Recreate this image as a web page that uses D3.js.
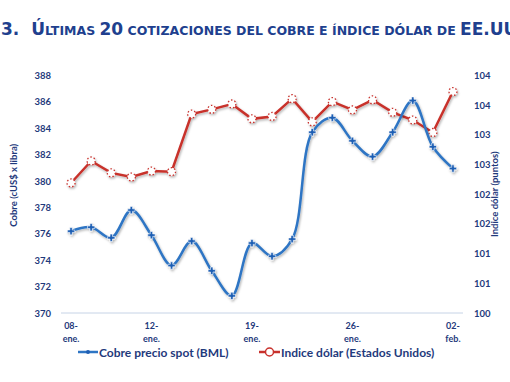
<!DOCTYPE html>
<html><head><meta charset="utf-8">
<script src="https://cdn.jsdelivr.net/npm/d3@7"></script>
<style>
html,body{margin:0;padding:0;background:#fff;overflow:hidden}
svg{display:block}
</style></head>
<body>
<svg id="c" width="510" height="382"></svg>
<script>
const dates = ["08-ene.","09-ene.","10-ene.","11-ene.","12-ene.","15-ene.","16-ene.","17-ene.","18-ene.","19-ene.",
  "22-ene.","23-ene.","24-ene.","25-ene.","26-ene.","29-ene.","30-ene.","31-ene.","01-feb.","02-feb."];
const cobre = [376.2,376.5,375.7,377.8,375.9,373.6,375.45,373.2,371.3,375.3,
  374.3,375.6,383.7,384.8,383.05,381.85,383.7,386.1,382.6,380.95];
const dolar = [102.19,102.56,102.36,102.29,102.39,102.38,103.35,103.43,103.52,103.27,
  103.31,103.61,103.22,103.56,103.42,103.59,103.38,103.25,103.04,103.73];
const labeledDates = ["08-ene.","12-ene.","19-ene.","26-ene.","02-feb."];
const leftTicks = [370,372,374,376,378,380,382,384,386,388];
const rightTicks = [100,100.5,101,101.5,102,102.5,103,103.5,104];
const seriesNames = ["Cobre precio spot (BML)","Indice dólar (Estados Unidos)"];
const titleParts = [["3.",1],["\u00A0\u00A0\u00DA",1],["LTIMAS ",0],["20",1],[" COTIZACIONES DEL COBRE E ÍNDICE DÓLAR DE ",0],["EE.UU.",1]];

const navy = "#1F3A7C", blue = "#2E75C4", red = "#C8312C";
const svg = d3.select("#c");
const m = {l:61, r:463, t:75.5, b:313};

const defs = svg.append("defs");
const f = defs.append("filter").attr("id","sh").attr("x","-10%").attr("y","-10%").attr("width","120%").attr("height","130%");
f.append("feDropShadow").attr("dx",1).attr("dy",1.5).attr("stdDeviation",1).attr("flood-color","#000").attr("flood-opacity",0.3);

// title
const t = svg.append("text").attr("x",1).attr("y",35)
  .attr("font-family","DejaVu Sans, Verdana, sans-serif").attr("font-weight","bold").attr("fill","#203F8E");
titleParts.forEach(([s,big]) => t.append("tspan").attr("font-size", big?17:12.5).text(s));

const x = d3.scalePoint().domain(dates).range([m.l, m.r]).padding(0.5);
const yL = d3.scaleLinear().domain([370,388]).range([m.b, m.t]);
const yR = d3.scaleLinear().domain([100,104]).range([m.b, m.t]);

// bottom axis line
svg.append("line").attr("x1",m.l).attr("x2",m.r).attr("y1",m.b).attr("y2",m.b).attr("stroke","#C6D3E6").attr("stroke-width",1);

const fontAx = "Lato, 'Open Sans', sans-serif";
// left axis
const la = svg.append("g").attr("transform",`translate(51,0)`)
  .call(d3.axisLeft(yL).tickValues(leftTicks).tickSize(0).tickPadding(0).tickFormat(d3.format("d")));
la.select(".domain").remove();
la.selectAll("text").attr("font-family",fontAx).attr("font-size",9.5).attr("font-weight","bold").attr("fill",navy);

// right axis
const ra = svg.append("g").attr("transform",`translate(474,0)`)
  .call(d3.axisRight(yR).tickValues(rightTicks).tickSize(0).tickPadding(0).tickFormat(d=>Math.floor(d+0.5)));
ra.select(".domain").remove();
ra.selectAll("text").attr("font-family",fontAx).attr("font-size",9.5).attr("font-weight","bold").attr("fill",navy);

// x labels
const xl = svg.append("g").attr("font-family",fontAx).attr("font-size",9).attr("font-weight","bold").attr("fill",navy).attr("text-anchor","middle");
labeledDates.forEach(d => {
  const [a,b] = d.split("-");
  const tx = xl.append("text").attr("x",x(d)).attr("y",329);
  tx.append("tspan").attr("x",x(d)).text(a+"-");
  tx.append("tspan").attr("x",x(d)).attr("dy",12.5).text(b);
});

// axis titles
svg.append("text").attr("transform",`translate(17,${(m.t+m.b)/2-9}) rotate(-90)`).attr("text-anchor","middle")
  .attr("font-family",fontAx).attr("font-size",9.5).attr("font-weight","bold").attr("fill",navy).text("Cobre (cUS$ x libra)");
svg.append("text").attr("transform",`translate(498,${(m.t+m.b)/2}) rotate(-90)`).attr("text-anchor","middle")
  .attr("font-family",fontAx).attr("font-size",9.5).attr("font-weight","bold").attr("fill",navy).text("Indice dólar (puntos)");

// red series
const lineR = d3.line().x((d,i)=>x(dates[i])).y(d=>yR(d));
const gR = svg.append("g").attr("filter","url(#sh)");
gR.append("path").datum(dolar).attr("d",lineR).attr("fill","none").attr("stroke",red).attr("stroke-width",2.5);
gR.selectAll("circle").data(dolar).join("circle").attr("cx",(d,i)=>x(dates[i])).attr("cy",d=>yR(d)).attr("r",4)
  .attr("fill","#fff").attr("stroke",red).attr("stroke-width",1.3).attr("stroke-dasharray","1.5,2");

// blue series
const lineB = d3.line().x((d,i)=>x(dates[i])).y(d=>yL(d)).curve(d3.curveCatmullRom.alpha(0.5));
const gB = svg.append("g").attr("filter","url(#sh)");
gB.append("path").datum(cobre).attr("d",lineB).attr("fill","none").attr("stroke",blue).attr("stroke-width",2.5);
gB.selectAll("path.m").data(cobre).join("path").attr("class","m")
  .attr("transform",(d,i)=>`translate(${x(dates[i])},${yL(d)})`)
  .attr("d",d3.symbol(d3.symbolCross,30)).attr("fill","#1F5FB4").attr("stroke","#fff").attr("stroke-width",0.6);

// legend
const lg = svg.append("g").attr("font-family",fontAx).attr("font-size",12).attr("font-weight","bold").attr("fill",navy);
lg.append("line").attr("x1",78).attr("x2",98).attr("y1",352).attr("y2",352).attr("stroke",blue).attr("stroke-width",2.5);
lg.append("circle").attr("cx",88).attr("cy",352).attr("r",2).attr("fill","#1F5FB4");
lg.append("text").attr("x",99).attr("y",356.5).text(seriesNames[0]);
lg.append("line").attr("x1",259).attr("x2",280).attr("y1",352).attr("y2",352).attr("stroke",red).attr("stroke-width",2.5);
lg.append("circle").attr("cx",269.5).attr("cy",352).attr("r",4).attr("fill","#fff").attr("stroke",red).attr("stroke-width",1.5);
lg.append("text").attr("x",281).attr("y",356.5).text(seriesNames[1]);
</script>
</body></html>
